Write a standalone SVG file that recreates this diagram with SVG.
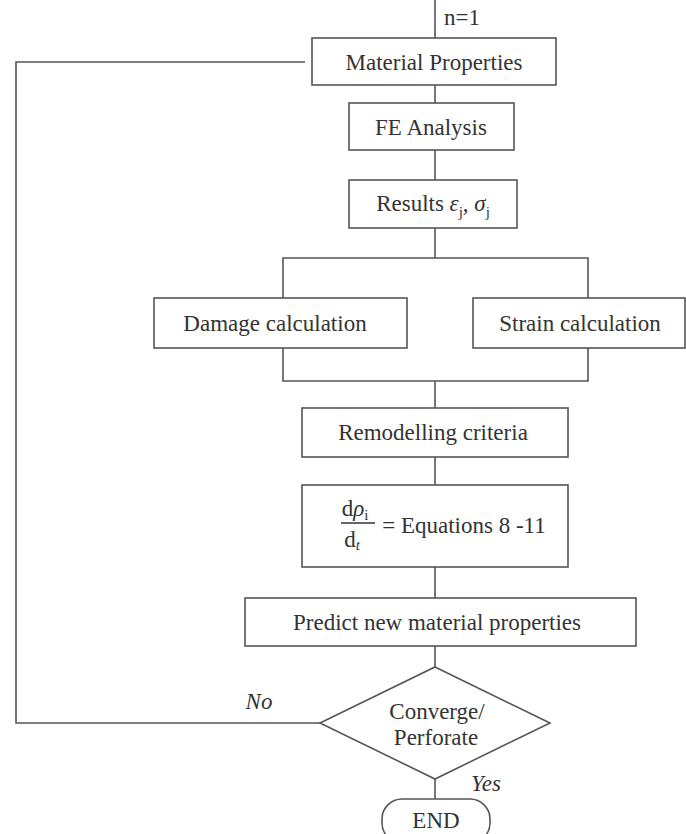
<svg xmlns="http://www.w3.org/2000/svg" width="686" height="834" viewBox="0 0 686 834">
<style>
.b{fill:#fff;stroke:#555;stroke-width:1.6}
.c{fill:none;stroke:#555;stroke-width:1.6}
text{font-family:"Liberation Serif","Times New Roman",serif;font-size:23px;fill:#333;text-anchor:middle}
.i{font-style:italic}
</style>
<rect width="686" height="834" fill="#fff"/>
<g id="connectors">
<path class="c" d="M435 0V38M305 62H16V723H320M435 85V103M435 150V180M435 228V258M283 298V258H588V298M283 348V381H588V348M435 381V408M435 457V485M435 567V598M435 646V667M435 779V799"/>
</g>
<g id="n1"><text x="462" y="25" font-size="20">n=1</text></g>
<g id="material"><rect class="b" x="312" y="38" width="244" height="47"/><text x="434" y="70">Material Properties</text></g>
<g id="fe"><rect class="b" x="349" y="103" width="165" height="47"/><text x="431" y="135">FE Analysis</text></g>
<g id="results"><rect class="b" x="349" y="180" width="168" height="48"/><text x="433" y="211">Results <tspan class="i">ε</tspan><tspan font-size="15" dy="6">j</tspan><tspan dy="-6">, </tspan><tspan class="i">σ</tspan><tspan font-size="15" dy="6">j</tspan></text></g>
<g id="damage"><rect class="b" x="154" y="298" width="253" height="50"/><text x="275" y="331">Damage calculation</text></g>
<g id="strain"><rect class="b" x="473" y="298" width="212" height="50"/><text x="580" y="331">Strain calculation</text></g>
<g id="remodel"><rect class="b" x="302" y="408" width="266" height="49"/><text x="433" y="440">Remodelling criteria</text></g>
<g id="equation"><rect class="b" x="302" y="485" width="266" height="82"/>
<text x="355" y="516">d<tspan class="i">ρ</tspan><tspan font-size="15" dy="4">i</tspan></text>
<line x1="341" y1="523" x2="375" y2="523" stroke="#333" stroke-width="1.3"/>
<text x="352" y="547">d<tspan class="i" font-size="15" dy="3">t</tspan></text>
<text x="464" y="533">= Equations 8 -11</text></g>
<g id="predict"><rect class="b" x="245" y="598" width="391" height="48"/><text x="437" y="630">Predict new material properties</text></g>
<g id="decision"><polygon class="b" points="435,667 550,723 435,779 320,723"/><text x="437" y="719">Converge/</text><text x="436" y="745">Perforate</text></g>
<g id="labels"><text class="i" x="259" y="709" font-size="21">No</text><text class="i" x="486" y="791" font-size="21">Yes</text></g>
<g id="end"><rect class="b" x="382" y="799" width="108" height="44" rx="20"/><text x="436" y="828">END</text></g>
</svg>
